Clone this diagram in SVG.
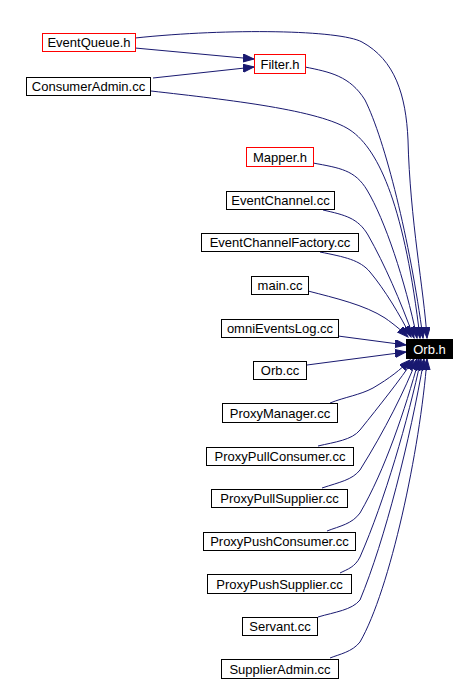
<svg xmlns="http://www.w3.org/2000/svg" width="476" height="681" viewBox="0 0 476 681">
<defs>
<marker id="ah" markerUnits="userSpaceOnUse" markerWidth="12" markerHeight="10" refX="11" refY="4" orient="auto">
<polygon points="0,0 11,4 0,8" fill="#191970" stroke="#191970" stroke-width="1"/>
</marker>
<style>
.n rect{fill:#fff;stroke:#000;stroke-width:1}
.n.r rect{stroke:#f00}
.n.k rect{fill:#000}
.n text{font-family:"Liberation Sans",Arial,sans-serif;font-size:13px;text-anchor:middle;fill:#000}
.n.k text{fill:#fff}
.e path{fill:none;stroke:#191970;stroke-width:1;marker-end:url(#ah)}
</style>
</defs>
<rect width="476" height="681" fill="#fff"/>
<g class="e" id="edges">
<path d="M135,48 L254,59"/>
<path d="M153,78 L254,67"/>
<path d="M135,38 C230,28 340,30 362,42 C395,60 406,95 408,140 C410,220 424,290 427,338"/>
<path d="M305,67 C330,72 350,76 365,100 C385,140 410,240 423,338"/>
<path d="M151,91 C230,100 320,110 350,130 C380,150 405,210 420,338"/>
<path d="M313,163 C340,168 355,170 367,190 C385,220 405,280 417,338"/>
<path d="M323,210 C345,215 358,218 368,235 C385,265 400,300 414,338"/>
<path d="M320,252 C345,257 360,260 370,272 C385,290 400,315 411,337"/>
<path d="M308,291 C335,298 365,305 385,318 C395,325 402,331 408,337"/>
<path d="M338,336 L406,345"/>
<path d="M307,365 L406,352"/>
<path d="M330,403 C345,397 360,395 373,388 C390,378 400,370 410,360"/>
<path d="M318,446 C335,442 352,440 360,430 C380,405 400,380 414,359"/>
<path d="M322,488 C340,482 352,480 360,470 C385,430 405,390 417,359"/>
<path d="M327,531 C340,526 352,524 360,513 C385,470 405,410 419,359"/>
<path d="M340,573 C348,569 355,567 360,557 C385,500 408,420 421,359"/>
<path d="M318,617 C335,612 352,610 360,600 C385,540 410,440 424,359"/>
<path d="M330,658 C340,654 352,652 360,642 C390,590 420,450 427,359"/>
</g>
<g class="n r" id="EventQueue_h"><rect x="42.5" y="33.5" width="93" height="18"/><text x="89" y="47">EventQueue.h</text></g>
<g class="n r" id="Filter_h"><rect x="254.5" y="54.5" width="51" height="19"/><text x="280" y="68.5">Filter.h</text></g>
<g class="n" id="ConsumerAdmin_cc"><rect x="26.5" y="77.5" width="124" height="18"/><text x="88.5" y="91">ConsumerAdmin.cc</text></g>
<g class="n r" id="Mapper_h"><rect x="246.5" y="147.5" width="67" height="19"/><text x="280" y="161.5">Mapper.h</text></g>
<g class="n" id="EventChannel_cc"><rect x="226.5" y="191.5" width="108" height="18"/><text x="280.5" y="205">EventChannel.cc</text></g>
<g class="n" id="EventChannelFactory_cc"><rect x="201.5" y="233.5" width="157" height="18"/><text x="280" y="247">EventChannelFactory.cc</text></g>
<g class="n" id="main_cc"><rect x="251.5" y="276.5" width="57" height="18"/><text x="280" y="290">main.cc</text></g>
<g class="n" id="omniEventsLog_cc"><rect x="221.5" y="319.5" width="117" height="18"/><text x="280" y="333">omniEventsLog.cc</text></g>
<g class="n k" id="Orb_h"><rect x="406.5" y="339.5" width="46" height="19"/><text x="429.5" y="353.5">Orb.h</text></g>
<g class="n" id="Orb_cc"><rect x="253.5" y="361.5" width="53" height="18"/><text x="280" y="375">Orb.cc</text></g>
<g class="n" id="ProxyManager_cc"><rect x="222.5" y="403.5" width="115" height="19"/><text x="280" y="417.5">ProxyManager.cc</text></g>
<g class="n" id="ProxyPullConsumer_cc"><rect x="206.5" y="447.5" width="147" height="18"/><text x="280" y="461">ProxyPullConsumer.cc</text></g>
<g class="n" id="ProxyPullSupplier_cc"><rect x="211.5" y="489.5" width="136" height="18"/><text x="279.5" y="503">ProxyPullSupplier.cc</text></g>
<g class="n" id="ProxyPushConsumer_cc"><rect x="203.5" y="532.5" width="152" height="18"/><text x="279.5" y="546">ProxyPushConsumer.cc</text></g>
<g class="n" id="ProxyPushSupplier_cc"><rect x="207.5" y="574.5" width="144" height="19"/><text x="279.5" y="588.5">ProxyPushSupplier.cc</text></g>
<g class="n" id="Servant_cc"><rect x="242.5" y="617.5" width="75" height="18"/><text x="280" y="631">Servant.cc</text></g>
<g class="n" id="SupplierAdmin_cc"><rect x="221.5" y="659.5" width="117" height="19"/><text x="280" y="673.5">SupplierAdmin.cc</text></g>
</svg>
